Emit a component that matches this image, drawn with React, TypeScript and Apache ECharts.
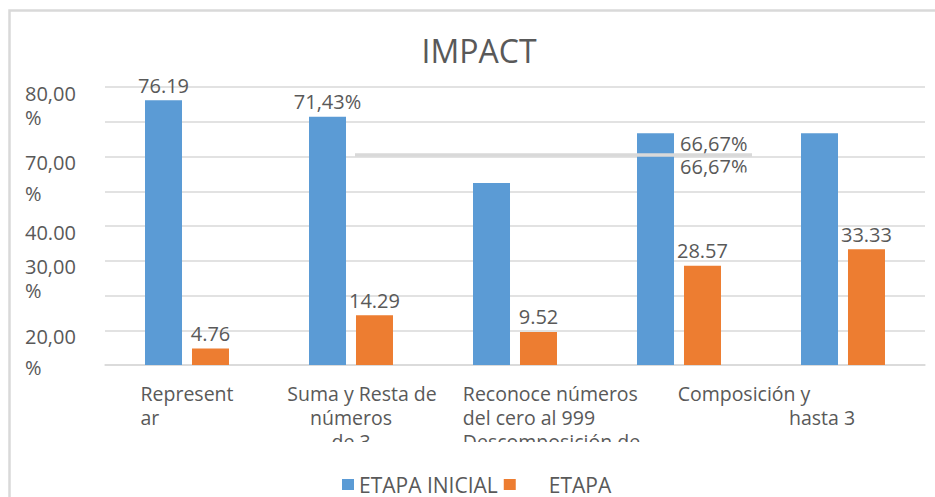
import React, { useEffect, useRef } from "react";
import * as echarts from "echarts";

// ---- data ----
const categoryLines: string[][] = [
  ["Represent", "ar"],
  ["Suma y Resta de", "números", "de 3"],
  ["Reconoce números", "del cero al 999", "Descomposición de"],
  ["Composición y"],
  ["", "hasta 3"],
];
const categories = categoryLines.map((l) => l.filter(Boolean).join(" "));
const seriesNames = ["ETAPA INICIAL", "ETAPA"];
const inicialValues = [76.19, 71.43, 52.38, 66.67, 66.67];
const etapaValues = [4.76, 14.29, 9.52, 28.57, 33.33];
const inicialLabels = ["76.19", "71,43%", "", "66,67%", ""];
const etapaLabels = ["4.76", "14.29", "9.52", "28.57", "33.33"];
const yTickValues = [80, 60, 40, 30, 10];
const yTickTexts: string[][] = [["80,00", "%"], ["70,00", "%"], ["40.00"], ["30,00", "%"], ["20,00", "%"]];
const titleText = "IMPACT";

export default function App() {
  const ref = useRef<HTMLDivElement>(null);
  useEffect(() => {
    const chart = echarts.init(ref.current!, null, { renderer: "svg" });
    const ff = "'Open Sans', sans-serif";
    const gray = "#595959";
    const gridC = "#d9d9d9";
    const blue = "#5B9BD5";
    const orange = "#ED7D31";
    const xPads = [[0, 0, 0, 0], [0, 0, 0, 0], [0, 0, 0, 73], [0, 0, 0, 130], [0, 42, 0, 0]];
    const xfs = 19.5;
    const tok = (extra: any = {}) => ({ fontSize: xfs, color: gray, fontFamily: ff, lineHeight: 24, ...extra });

    const formatCat = (i: number) => {
      const lines = categoryLines[i];
      if (i === 0) return `${lines[0]}\n{l|${lines[1]}}`;
      if (i === 1) return `{s|${lines[0]}}\n${lines.slice(1).join("\n")}`;
      if (i === 2) return lines.map((s) => `{l|${s}}`).join("\n");
      return lines.join("\n");
    };

    const yfs = 20;
    const formatY = (v: number) => {
      const k = yTickValues.indexOf(v);
      if (k < 0) return "";
      const t = yTickTexts[k];
      if (t.length === 1) return `{a|${t[0]}}`;
      const b = v === 80 || v === 30 ? "b" : "c";
      return `{a|${t[0]}}\n{${b}|${t[1]}}`;
    };
    const ytok = (lh: number) => ({ fontSize: yfs, color: gray, fontFamily: ff, lineHeight: lh });

    const option: any = {
      animation: false,
      textStyle: { fontFamily: ff },
      title: {
        text: titleText,
        left: 479,
        top: 34,
        padding: 0,
        textAlign: "center",
        textStyle: { fontSize: 32, fontWeight: "normal", color: gray, fontFamily: ff },
      },
      legend: {
        left: 337,
        top: 469,
        itemWidth: 12,
        itemHeight: 11,
        itemGap: 6,
        icon: "rect",
        data: seriesNames,
        formatter: (name: string) => (name === "ETAPA" ? `{p|${name}}` : name),
        textStyle: {
          fontSize: 21,
          color: gray,
          fontFamily: ff,
          rich: { p: { padding: [0, 0, 0, 28], fontSize: 21, color: gray, fontFamily: ff } },
        },
      },
      grid: { left: 105, right: 10, top: 87, bottom: 132 },
      xAxis: {
        type: "category",
        data: categories.map((c, i) => ({ value: c, textStyle: { padding: xPads[i] } })),
        axisLine: { lineStyle: { color: gridC, width: 1.5 } },
        axisTick: { show: false },
        axisLabel: {
          interval: 0,
          margin: 16,
          fontSize: xfs,
          color: gray,
          lineHeight: 24,
          fontFamily: ff,
          formatter: (_v: string, i: number) => formatCat(i),
          rich: { l: tok({ align: "left" }), s: tok({ padding: [0, 0, 0, 22] }) },
        },
      },
      yAxis: {
        type: "value",
        min: 0,
        max: 80,
        interval: 10,
        axisLine: { show: false },
        axisTick: { show: false },
        splitLine: { lineStyle: { color: gridC, width: 1.5 } },
        axisLabel: {
          align: "left",
          verticalAlign: "top",
          margin: 80,
          fontSize: yfs,
          color: gray,
          fontFamily: ff,
          formatter: formatY,
          rich: { a: ytok(12), b: ytok(36), c: ytok(50) },
        },
      },
      series: [
        {
          name: seriesNames[0],
          type: "bar",
          barWidth: 37,
          barGap: "27%",
          itemStyle: { color: blue },
          label: {
            show: true,
            position: "top",
            distance: 5,
            fontSize: 20,
            color: gray,
            fontFamily: ff,
            formatter: (p: any) => inicialLabels[p.dataIndex],
          },
          data: inicialValues.map((v, i) =>
            i === 3
              ? {
                  value: v,
                  label: {
                    position: [43, -1],
                    align: "left",
                    verticalAlign: "top",
                    lineHeight: 23,
                    formatter: `${inicialLabels[i]}\n${inicialLabels[i]}`,
                  },
                }
              : v
          ),
        },
        {
          name: seriesNames[1],
          type: "bar",
          barWidth: 37,
          itemStyle: { color: orange },
          label: {
            show: true,
            position: "top",
            distance: 5,
            fontSize: 20,
            color: gray,
            fontFamily: ff,
            formatter: (p: any) => etapaLabels[p.dataIndex],
          },
          data: etapaValues,
        },
      ],
    };
    chart.setOption(option);

    // decorations derived from the axes
    const px = (i: number) => chart.convertToPixel({ xAxisIndex: 0 }, i) as number;
    const py = (v: number) => chart.convertToPixel({ yAxisIndex: 0 }, v) as number;
    const y60 = py(60);
    const y0 = py(0);
    chart.setOption({
      graphic: [
        {
          type: "rect",
          z: 0,
          silent: true,
          shape: { x: 9.5, y: 10.5, width: 940, height: 500 },
          style: { fill: "none", stroke: gridC, lineWidth: 2.5 },
        },
        {
          type: "line",
          z: 50,
          silent: true,
          shape: { x1: px(1) + 4, y1: y60 - 1.5, x2: px(3) + 73, y2: y60 - 1.5 },
          style: { stroke: gridC, lineWidth: 3.5 },
        },
        {
          type: "rect",
          zlevel: 1,
          silent: true,
          shape: { x: px(3) + 38, y: y60 + 16, width: 45, height: 9 },
          style: { fill: "#ffffff" },
        },
        {
          type: "rect",
          zlevel: 1,
          silent: true,
          shape: { x: 105, y: y0 + 77, width: 820, height: 20 },
          style: { fill: "#ffffff" },
        },
      ],
    });

    return () => chart.dispose();
  }, []);
  return (
    <div
      ref={ref}
      style={{ position: "fixed", left: 0, top: 0, width: 935, height: 497, background: "#fff" }}
    />
  );
}
